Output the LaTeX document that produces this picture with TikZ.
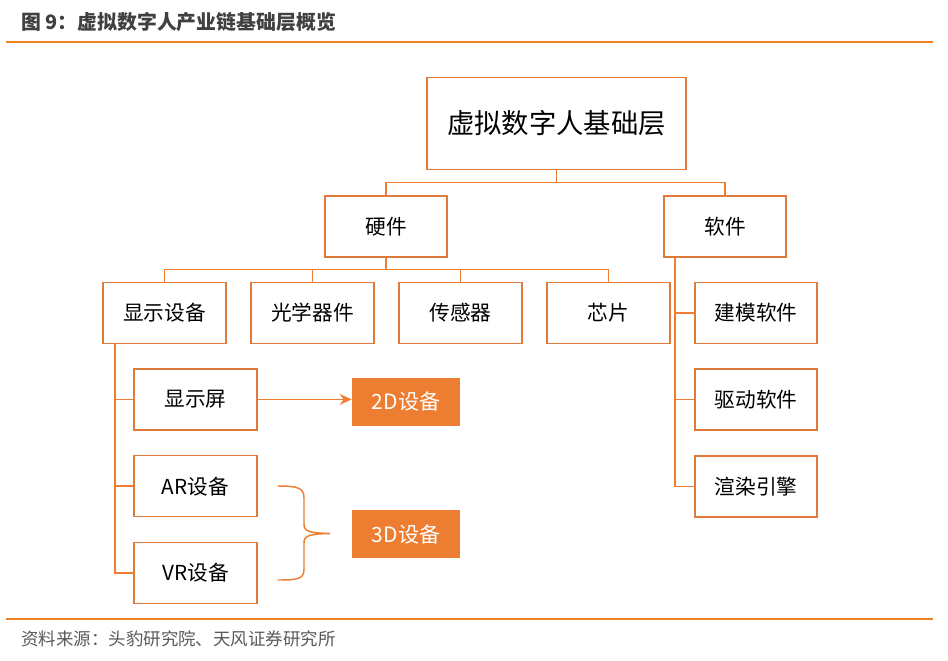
\documentclass[tikz,border=0pt]{standalone}
\usepackage{fontspec}
\newfontfamily\cjk{Noto Sans CJK SC}
\usetikzlibrary{arrows.meta}
\definecolor{borange}{HTML}{E07A3A}
\definecolor{lorange}{HTML}{ED7D31}
\definecolor{rorange}{HTML}{EE8222}
\definecolor{titlegray}{HTML}{404040}
\definecolor{footgray}{HTML}{595959}
\tikzset{
  box/.style={draw=borange, line width=1.1pt, fill=white, inner sep=0pt,
    minimum width=123*0.75pt, minimum height=61*0.75pt,
    font=\cjk\fontsize{15.5}{18}\selectfont, text=black},
  fillbox/.style={fill=lorange, inner sep=0pt,
    minimum width=108*0.75pt, minimum height=48*0.75pt,
    font=\cjk\fontsize{15.8}{18}\selectfont, text=white},
  conn/.style={draw=lorange, line width=1.1pt},
  rulebar/.style={draw=rorange, line width=1.8pt}
}
\begin{document}
\begin{tikzpicture}[x=0.75pt,y=-0.75pt]
\useasboundingbox (0,0) rectangle (948,660);
% title and rules
\node[anchor=west, inner sep=0pt, text=titlegray, font=\cjk\bfseries\fontsize{14.9}{17}\selectfont] (title) at (21,22) {图 9：虚拟数字人产业链基础层概览};
\coordinate (r1a) at (6,42); \coordinate (r1b) at (933,42);
\draw[rulebar] (r1a) -- (r1b);
\coordinate (r2a) at (6,619); \coordinate (r2b) at (933,619);
\draw[rulebar] (r2a) -- (r2b);
\node[anchor=west, inner sep=0pt, text=footgray, font=\cjk\fontsize{13.1}{16}\selectfont] (foot) at (21,639) {资料来源：头豹研究院、天风证券研究所};

% boxes
\node[box, minimum width=259*0.75pt, minimum height=92*0.75pt, font=\cjk\fontsize{20.5}{24}\selectfont] (top) at (556.5,123.5) {虚拟数字人基础层};
\node[box, minimum width=122*0.75pt] (hw) at (386,226.5) {硬件};
\node[box, minimum width=122*0.75pt] (sw) at (725,226.5) {软件};

\node[box] (disp) at (164.5,312.8) {显示设备};
\node[box] (opt) at (312.5,312.8) {光学器件};
\node[box] (sens) at (460.5,312.8) {传感器};
\node[box] (chip) at (608.5,312.8) {芯片};

\node[box, minimum width=122*0.75pt] (model) at (756,312.8) {建模软件};
\node[box, minimum width=122*0.75pt] (drive) at (756,399.4) {驱动软件};
\node[box, minimum width=122*0.75pt] (render) at (756,486.4) {渲染引擎};

\node[box] (screen) at (195.5,399.4) {显示屏};
\node[box] (ar) at (195.5,486.2) {AR设备};
\node[box] (vr) at (195.5,573) {VR设备};

\node[fillbox] (d2) at (406,401.8) {2D设备};
\node[fillbox] (d3) at (406,534.2) {3D设备};

% connectors top level
\coordinate (bar1) at (556.5,182.5);
\draw[conn] (top.south) -- (bar1);
\draw[conn] (bar1) -| (hw.north);
\draw[conn] (bar1) -| (sw.north);
% hardware children
\coordinate (bar2) at (386,269.5);
\draw[conn] (hw.south) -- (bar2);
\draw[conn] (bar2) -| (disp.north);
\draw[conn] (bar2) -| (opt.north);
\draw[conn] (bar2) -| (sens.north);
\draw[conn] (bar2) -| (chip.north);
% display children
\draw[conn] ([xshift=12.5*0.75pt]disp.south west) |- (screen.west);
\draw[conn] ([xshift=12.5*0.75pt]disp.south west) |- (ar.west);
\draw[conn] ([xshift=12.5*0.75pt]disp.south west) |- (vr.west);
% software children
\draw[conn] ([xshift=11.5*0.75pt]sw.south west) |- (model.west);
\draw[conn] ([xshift=11.5*0.75pt]sw.south west) |- (drive.west);
\draw[conn] ([xshift=11.5*0.75pt]sw.south west) |- (render.west);
% arrow
\draw[conn, line width=1.3pt, -{Stealth[length=9pt,width=8pt]}] (screen.east) -- (screen.east -| d2.west);
% brace
\draw[conn, line cap=round] (278,486) .. controls (298,486) and (304,488) .. (304,498)
  -- (304,524) .. controls (304,531) and (308,533) .. (330,533.5)
  .. controls (308,534) and (304,536) .. (304,543)
  -- (304,569) .. controls (304,579) and (298,580) .. (278,580);
\end{tikzpicture}
\end{document}
